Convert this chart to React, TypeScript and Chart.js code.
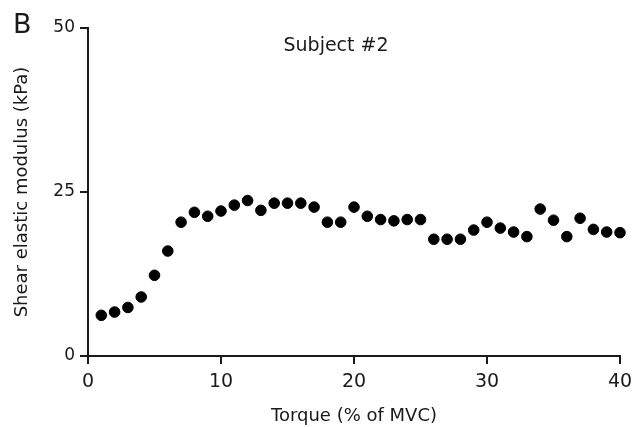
import React, { useEffect, useRef } from "react";
import { Chart, registerables } from "chart.js";

Chart.register(...registerables);

const torque: number[] = [
  1, 2, 3, 4, 5, 6, 7, 8, 9, 10,
  11, 12, 13, 14, 15, 16, 17, 18, 19, 20,
  21, 22, 23, 24, 25, 26, 27, 28, 29, 30,
  31, 32, 33, 34, 35, 36, 37, 38, 39, 40,
];
const modulus: number[] = [
  6.2, 6.7, 7.4, 9.0, 12.3, 16.0, 20.4, 21.9, 21.3, 22.1,
  23.0, 23.7, 22.2, 23.3, 23.3, 23.3, 22.7, 20.4, 20.4, 22.7,
  21.3, 20.8, 20.6, 20.8, 20.8, 17.8, 17.8, 17.8, 19.2, 20.4,
  19.5, 18.9, 18.2, 22.4, 20.7, 18.2, 21.0, 19.3, 18.9, 18.8,
];
const xTicks: number[] = [0, 10, 20, 30, 40];
const yTicks: number[] = [0, 25, 50];
const panelLabel = "B";
const subjectTitle = "Subject #2";
const xTitle = "Torque (% of MVC)";
const yTitle = "Shear elastic modulus (kPa)";

const FONT = "'DejaVu Sans', sans-serif";
const INK = "#1a1a1a";

const textPlugin = {
  id: "panelText",
  afterDraw(chart: any) {
    const ctx = chart.ctx;
    ctx.save();
    ctx.fillStyle = INK;
    ctx.textBaseline = "alphabetic";
    ctx.textAlign = "left";
    ctx.font = `27px ${FONT}`;
    ctx.fillText(panelLabel, 13, 33);
    ctx.textAlign = "center";
    ctx.font = `19px ${FONT}`;
    ctx.fillText(subjectTitle, 336, 51);
    ctx.restore();
  },
};

export default function App() {
  const ref = useRef<HTMLCanvasElement | null>(null);
  useEffect(() => {
    if (!ref.current) return;
    const chart = new Chart(ref.current, {
      type: "scatter",
      data: {
        datasets: [
          {
            data: torque.map((t, i) => ({ x: t, y: modulus[i] })),
            backgroundColor: "#000",
            borderColor: "#000",
            pointRadius: 5.3,
            pointHoverRadius: 5.3,
            clip: false as any,
          },
        ],
      },
      options: {
        animation: false,
        responsive: false,
        events: [],
        layout: { padding: { top: 28, right: 15, left: 0, bottom: 0 } },
        plugins: {
          legend: { display: false },
          tooltip: { enabled: false },
          title: { display: false },
        },
        scales: {
          x: {
            type: "linear",
            min: 0,
            max: 40,
            afterFit: (s: any) => {
              s.height = 71;
              s.paddingLeft = 0;
              s.paddingRight = 0;
            },
            afterBuildTicks: (s: any) => {
              s.ticks = xTicks.map((v) => ({ value: v }));
            },
            border: { display: true, color: INK, width: 2 },
            grid: {
              display: true,
              drawOnChartArea: false,
              drawTicks: true,
              tickLength: 8,
              tickColor: INK,
              lineWidth: 2,
            },
            ticks: {
              color: INK,
              font: { family: FONT, size: 19 },
              padding: 7,
              maxRotation: 0,
            },
            title: {
              display: true,
              text: xTitle,
              color: INK,
              font: { family: FONT, size: 18 },
              padding: { top: 0, bottom: 0 },
            },
          },
          y: {
            type: "linear",
            min: 0,
            max: 50,
            afterFit: (s: any) => {
              s.width = 88;
              s.paddingTop = 0;
              s.paddingBottom = 0;
            },
            afterBuildTicks: (s: any) => {
              s.ticks = yTicks.map((v) => ({ value: v }));
            },
            border: { display: true, color: INK, width: 2 },
            grid: {
              display: true,
              drawOnChartArea: false,
              drawTicks: true,
              tickLength: 8,
              tickColor: INK,
              lineWidth: 2,
            },
            ticks: {
              color: INK,
              font: { family: FONT, size: 17 },
              padding: 5,
            },
            title: {
              display: true,
              text: yTitle,
              color: INK,
              font: { family: FONT, size: 18 },
              padding: { top: 12, bottom: 0 },
            },
          },
        },
      },
      plugins: [textPlugin],
    });
    return () => chart.destroy();
  }, []);
  return (
    <div style={{ position: "fixed", left: 0, top: 0, width: 635, height: 427, background: "#fff" }}>
      <canvas ref={ref} width={635} height={427} style={{ width: 635, height: 427 }} />
    </div>
  );
}
